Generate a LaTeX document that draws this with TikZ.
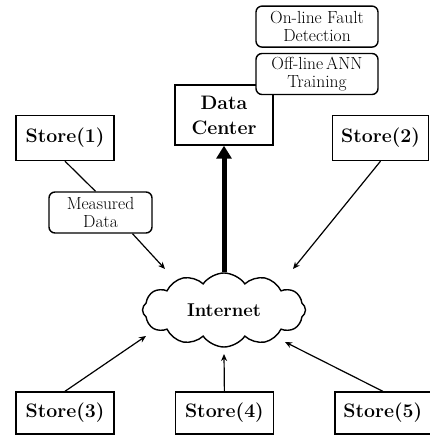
\documentclass[tikz,border=0pt]{standalone}
\usepackage{tikz}
\usetikzlibrary{arrows.meta,positioning,shapes.symbols}
\tikzset{
  stbox/.style={
    draw,
    line width=1.4pt,
    minimum width=98pt,
    minimum height=45pt,
    inner sep=0pt,
    align=center,
    font=\fontsize{19.5}{25}\selectfont\bfseries
  },
  tagbox/.style={
    draw,
    fill=white,
    line width=1.4pt,
    rounded corners=6pt,
    minimum width=122pt,
    minimum height=41pt,
    inner sep=0pt,
    align=center,
    font=\fontsize{17.5}{18}\selectfont
  },
  netcloud/.style={
    draw,
    cloud,
    cloud puffs=12,
    cloud puff arc=110,
    cloud ignores aspect,
    line width=1.4pt,
    minimum width=163pt,
    minimum height=74pt,
    inner sep=0pt,
    font=\fontsize{18.5}{20}\selectfont\bfseries
  },
  netarrow/.style={-{Stealth[length=7pt,width=6pt]},line width=1.2pt},
  bigarrow/.style={-{Triangle[length=13pt,width=15pt]},line width=5pt}
}

\begin{document}
\begin{tikzpicture}[x=1pt,y=1pt,node distance=60pt]
      \useasboundingbox (0,0) rectangle (430,436);
      \node[stbox,minimum height=42pt] (s3) at (65,23) {Store(3)};
      \node[stbox,minimum height=42pt,right=of s3] (s4) {Store(4)};
      \node[stbox,minimum height=42pt,minimum width=96pt,right=of s4] (s5) {Store(5)};
      \node[stbox] (s1) at (65,298) {Store(1)};
      \node[stbox,minimum width=96pt] (s2) at (380.5,298) {Store(2)};
      \node[netcloud] (net) at (224,126) {Internet\hspace{12pt}};
      \node[stbox,minimum height=60pt] (dc) at (224,321) {Data\\Center};
      \node[tagbox] (off) at (317,362) {Off-line\,ANN\\Training};
      \node[tagbox,above=5pt of off] (on) {On-line Fault\\Detection};
      \node[tagbox,minimum width=103pt] (md) at (100.5,223.5) {Measured\\Data};
      \coordinate (t1) at (165,167);
      \coordinate (t2) at (293,167);
      \coordinate (t3) at (146,100);
      \coordinate (t4) at (224,82);
      \coordinate (t5) at (285,94);
      \draw[bigarrow] (net.north) -- (dc.south);
      \draw[line width=1.2pt] (s1.south) -- ([xshift=-5pt]md.north);
      \draw[netarrow] ([xshift=32pt]md.south) -- (t1);
      \draw[netarrow] (s2.south) -- (t2);
      \draw[netarrow] (s3.north) -- (t3);
      \draw[netarrow] (s4.north) -- (t4);
      \draw[netarrow] (s5.north) -- (t5);
    \end{tikzpicture}
\end{document}
